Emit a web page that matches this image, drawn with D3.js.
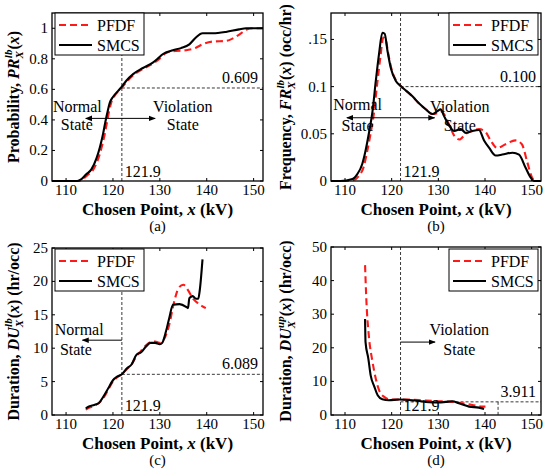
<!DOCTYPE html>
<html>
<head>
<meta charset="utf-8">
<script src="https://cdn.jsdelivr.net/npm/d3@7"></script>
<style>
  body { margin: 0; background: #fff; }
</style>
</head>
<body>
<svg id="fig" width="545" height="472" font-family="Liberation Serif"></svg>
<script>
// x axis shared by all four panels
const xTicks = [110, 120, 130, 140, 150];
const threshold = 121.9;

// (a) probability PR_X^lb(x)
const prTicks = [0, 0.2, 0.4, 0.6, 0.8, 1];
const prTickLabels = ["0", "0.2", "0.4", "0.6", "0.8", "1"];
const prPFDF = [[107,0],[112.6,0],[113.5,0.01],[114.6,0.04],[115.7,0.07],[116.8,0.14],[117.5,0.21],[118.2,0.3],[118.7,0.38],[119.2,0.46],[119.6,0.51],[120.2,0.55],[121.2,0.59],[122,0.615],[123,0.652],[124.5,0.697],[126.6,0.737],[128.7,0.772],[130.3,0.81],[131.3,0.838],[133.4,0.852],[135.6,0.856],[137.7,0.873],[139.1,0.895],[141.3,0.913],[144.1,0.917],[145.6,0.934],[147,0.96],[148.4,0.99],[149.8,1.0],[152,1.0]];
const prSMCS = [[107,0],[112.4,0],[113.2,0.01],[114.3,0.044],[115.4,0.076],[116.5,0.15],[117.2,0.22],[117.9,0.31],[118.4,0.39],[118.9,0.46],[119.3,0.51],[120,0.55],[121.1,0.59],[121.9,0.618],[122.8,0.655],[124.3,0.70],[126.4,0.74],[128.5,0.775],[129.5,0.8],[130.6,0.83],[132.8,0.856],[134.5,0.87],[136.3,0.895],[137.7,0.94],[139.1,0.967],[141.3,0.967],[144.1,0.976],[146.9,0.993],[148.4,1.0],[152,1.0]];

// (b) frequency FR_X^lb(x)
const frTicks = [0, 0.05, 0.1, 0.15];
const frTickLabels = ["0", "0.05", "0.1", ".15"];
const frPFDF = [[107,0],[109.5,0],[111.8,0.001],[112.9,0.005],[114,0.015],[114.7,0.03],[115.4,0.048],[116.2,0.072],[116.9,0.103],[117.6,0.132],[118.2,0.152],[118.7,0.15],[119.3,0.134],[120,0.118],[121,0.106],[122,0.1],[123,0.096],[124.4,0.09],[125.9,0.082],[127.3,0.076],[128.7,0.071],[129.8,0.072],[130.5,0.074],[131.2,0.071],[132.3,0.06],[133.4,0.048],[134.5,0.044],[135.9,0.05],[137.3,0.053],[138.7,0.055],[140.1,0.052],[141.2,0.043],[142.6,0.035],[144.4,0.039],[146.5,0.043],[147.9,0.039],[149,0.021],[150.1,0.0035],[150.8,0],[152,0]];
const frSMCS = [[107,0],[109,0],[111.6,0.002],[112.6,0.007],[113.7,0.018],[114.4,0.032],[115.1,0.05],[115.9,0.074],[116.6,0.106],[117.3,0.135],[118,0.157],[118.5,0.156],[119.1,0.138],[119.8,0.12],[120.9,0.106],[121.9,0.101],[123,0.096],[124.4,0.09],[125.9,0.082],[127.3,0.076],[128.7,0.071],[129.8,0.074],[130.5,0.076],[131.2,0.069],[132.3,0.059],[133.4,0.053],[134.8,0.055],[135.9,0.051],[137.3,0.053],[138.7,0.054],[139.8,0.043],[140.9,0.035],[142.3,0.027],[143.7,0.028],[145.9,0.03],[147.3,0.028],[148.7,0.014],[149.8,0.0035],[150.5,0],[152,0]];

// (c) duration DU_X^lb(x)
const dlTicks = [0, 5, 10, 15, 20, 25];
const dlTickLabels = ["0", "5", "10", "15", "20", "25"];
const dlPFDF = [[114.2,0.8],[115,1.1],[116,1.4],[117,1.8],[118,2.6],[119,3.8],[120,5.0],[121,5.7],[121.9,6.1],[123,6.9],[124,7.6],[125,8.8],[126,9.6],[127,10.4],[128,10.9],[129,11.0],[130,10.8],[131,11.5],[132,13.5],[133,16.8],[134,19.0],[135,19.5],[136,18.7],[137,17.5],[138,16.8],[139,16.3],[139.8,16.0]];
const dlSMCS = [[114.2,1.0],[115,1.3],[116,1.5],[117,1.8],[118,2.8],[119,4.0],[120,5.2],[121,5.8],[121.9,6.1],[123,7.0],[124,7.6],[125,9.0],[126,9.4],[127,10.2],[128,10.8],[129,10.8],[130,10.6],[130.5,10.8],[131.3,12.5],[132,14.5],[132.8,16.5],[134.2,16.6],[135.6,16.2],[136,16.0],[136.3,17.5],[137,17.8],[137.7,17.4],[138.2,17.4],[138.5,18.6],[139.1,23.3]];

// (d) duration DU_X^up(x)
const duTicks = [0, 10, 20, 30, 40, 50];
const duTickLabels = ["0", "10", "20", "30", "40", "50"];
const duPFDF = [[114.3,44.6],[114.6,33.5],[115.1,23.7],[115.9,15.8],[116.6,10.8],[117.3,7.4],[118.4,5.4],[119.8,4.6],[123,4.6],[127.3,4.3],[130.1,4.1],[133,3.9],[135.1,3.5],[137.3,3.0],[139.4,2.5],[140.1,2.5]];
const duSMCS = [[114.3,28.6],[114.4,21.7],[115,16.8],[115.5,11.8],[116.3,8.4],[117,5.9],[118,4.7],[119.4,4.4],[121.6,4.6],[124.4,4.4],[127.3,3.9],[130.1,3.7],[131.6,3.9],[133,4.1],[134.4,3.5],[136.6,2.5],[138.7,2.2],[139.8,1.8]];

const seriesNames = ["PFDF", "SMCS"];

const svg = d3.select("#fig");

// arrow head marker
svg.append("defs").append("marker")
    .attr("id", "arr")
    .attr("viewBox", "0 0 10 10")
    .attr("refX", 9).attr("refY", 5)
    .attr("markerWidth", 7).attr("markerHeight", 7)
    .attr("markerUnits", "userSpaceOnUse")
    .attr("orient", "auto-start-reverse")
  .append("path").attr("d", "M0,1 L10,5 L0,9 Z").attr("fill", "#000");

function drawPanel(p){
    let x = d3.scaleLinear().domain([107, 152]).range([p.left, p.right]);
    let y = d3.scaleLinear().domain(p.yDomain).range([p.bottom, p.top]);
    let g = svg.append("g");

    // clip a little past the box so lines lying on the axis stay visible
    g.append("clipPath").attr("id", "clip" + p.id)
      .append("rect").attr("x", p.left).attr("y", p.top - 2)
      .attr("width", p.right - p.left).attr("height", p.bottom - p.top + 4);

    // reference lines
    let ref = g.append("g").attr("stroke", "#222").attr("stroke-width", 0.9)
        .attr("stroke-dasharray", "3,2").attr("fill", "none");
    ref.append("line").attr("x1", x(threshold)).attr("x2", x(threshold))
        .attr("y1", y(p.yDomain[0])).attr("y2", y(p.yDomain[1]));
    ref.append("line").attr("x1", x(threshold)).attr("x2", x(152))
        .attr("y1", y(p.refVal)).attr("y2", y(p.refVal));
    if (p.extraX) {
        ref.append("line").attr("x1", x(p.extraX)).attr("x2", x(p.extraX))
            .attr("y1", y(p.refVal)).attr("y2", y(0));
    }

    // curves
    let line = d3.line().x(d => x(d[0])).y(d => y(d[1])).curve(d3.curveMonotoneX);
    let curves = g.append("g").attr("clip-path", "url(#clip" + p.id + ")");
    curves.append("path").datum(p.pfdf).attr("d", line)
        .attr("fill", "none").attr("stroke", "#ff1a1a").attr("stroke-width", 2.1)
        .attr("stroke-dasharray", "7,4");
    curves.append("path").datum(p.smcs).attr("d", line)
        .attr("fill", "none").attr("stroke", "#000").attr("stroke-width", 2.1);

    // axes box with inward ticks on all sides
    let tl = 3;
    let ax = g.append("g").attr("stroke", "#000").attr("stroke-width", 1);
    xTicks.forEach(t => {
        ax.append("line").attr("x1", x(t)).attr("x2", x(t)).attr("y1", p.bottom).attr("y2", p.bottom - tl);
        ax.append("line").attr("x1", x(t)).attr("x2", x(t)).attr("y1", p.top).attr("y2", p.top + tl);
    });
    p.yTicks.forEach(t => {
        ax.append("line").attr("x1", p.left).attr("x2", p.left + tl).attr("y1", y(t)).attr("y2", y(t));
        ax.append("line").attr("x1", p.right).attr("x2", p.right - tl).attr("y1", y(t)).attr("y2", y(t));
    });
    g.append("rect").attr("x", p.left).attr("y", p.top)
        .attr("width", p.right - p.left).attr("height", p.bottom - p.top)
        .attr("fill", "none").attr("stroke", "#000").attr("stroke-width", 1.3);

    // tick labels
    g.selectAll(".xt").data(xTicks).enter().append("text")
        .attr("x", d => x(d)).attr("y", p.bottom + 14)
        .attr("text-anchor", "middle").attr("font-size", 15).text(d => d);
    g.selectAll(".yt").data(p.yTicks).enter().append("text")
        .attr("x", p.left - 4).attr("y", d => y(d) + 5)
        .attr("text-anchor", "end").attr("font-size", 15)
        .text((d, i) => p.yTickLabels[i]);

    // x label
    let xl = g.append("text").attr("x", (p.left + p.right) / 2).attr("y", p.bottom + 34)
        .attr("text-anchor", "middle").attr("font-size", 17).attr("font-weight", "bold");
    xl.append("tspan").text("Chosen Point, ");
    xl.append("tspan").attr("font-style", "italic").text("x");
    xl.append("tspan").text(" (kV)");

    // y label with stacked sub/superscript
    let cy = (p.top + p.bottom) / 2;
    let yl = g.append("text").attr("transform", "translate(" + p.yLabelX + "," + cy + ") rotate(-90)")
        .attr("text-anchor", "middle").attr("font-size", 16).attr("font-weight", "bold");
    yl.append("tspan").text(p.yName + ", ");
    yl.append("tspan").attr("font-style", "italic").text(p.sym);
    yl.append("tspan").attr("font-style", "italic").attr("font-size", 11).attr("dy", 4).text("X");
    yl.append("tspan").attr("font-style", "italic").attr("font-size", 11).attr("dx", -7).attr("dy", -11).text(p.sup);
    yl.append("tspan").attr("dy", 7).text("(");
    yl.append("tspan").attr("font-style", "italic").text("x");
    yl.append("tspan").text(")" + p.unit);

    // caption
    g.append("text").attr("x", (p.left + p.right) / 2).attr("y", p.bottom + 50)
        .attr("text-anchor", "middle").attr("font-size", 15).text("(" + p.id + ")");

    // annotations
    let an = g.append("g").attr("font-size", 16);
    an.append("text").attr("x", x(152) - 5).attr("y", y(p.refVal) - 5)
        .attr("text-anchor", "end").text(p.refLabel);
    an.append("text").attr("x", x(threshold) + 3).attr("y", p.bottom - 4).text("121.9");
    p.notes.forEach(n => {
        an.append("text").attr("x", x(n.x)).attr("y", y(n.y))
            .attr("text-anchor", "middle").text(n.t);
    });
    p.arrows.forEach(a => {
        let l = an.append("line").attr("x1", x(a.from)).attr("x2", x(a.to))
            .attr("y1", y(a.y)).attr("y2", y(a.y))
            .attr("stroke", "#000").attr("stroke-width", 1)
            .attr("marker-end", "url(#arr)");
        if (a.both) l.attr("marker-start", "url(#arr)");
    });

    // legend
    let lg = g.append("g").attr("transform", "translate(" + p.legX + "," + p.legY + ")");
    lg.append("rect").attr("width", 89).attr("height", 42)
        .attr("fill", "#fff").attr("stroke", "#000").attr("stroke-width", 1);
    seriesNames.forEach((s, i) => {
        let ly = 12 + i * 20;
        let l = lg.append("line").attr("x1", 4).attr("x2", 37).attr("y1", ly).attr("y2", ly)
            .attr("stroke-width", 2.1);
        if (i === 0) l.attr("stroke", "#ff1a1a").attr("stroke-dasharray", "7,4");
        else l.attr("stroke", "#000");
        lg.append("text").attr("x", 42).attr("y", ly + 5.5).attr("font-size", 16).text(s);
    });
}

const panels = [
    {id: "a", left: 52, right: 263, top: 13, bottom: 181, yDomain: [0, 1.1],
     yTicks: prTicks, yTickLabels: prTickLabels, pfdf: prPFDF, smcs: prSMCS,
     refVal: 0.609, refLabel: "0.609", yLabelX: 19, yName: "Probability", sym: "PR", sup: "lb", unit: "",
     legX: 55, legY: 13,
     notes: [{x: 112.4, y: 0.449, t: "Normal"}, {x: 112.3, y: 0.332, t: "State"},
             {x: 134.9, y: 0.449, t: "Violation"}, {x: 134.9, y: 0.332, t: "State"}],
     arrows: [{from: 114.2, to: 129.0, y: 0.41, both: true}]},
    {id: "b", left: 331, right: 541, top: 13, bottom: 181, yDomain: [0, 0.178],
     yTicks: frTicks, yTickLabels: frTickLabels, pfdf: frPFDF, smcs: frSMCS,
     refVal: 0.1, refLabel: "0.100", yLabelX: 291, yName: "Frequency", sym: "FR", sup: "lb", unit: " (occ/hr)",
     legX: 449, legY: 13,
     notes: [{x: 112.7, y: 0.075, t: "Normal"}, {x: 112.7, y: 0.053, t: "State"},
             {x: 134.6, y: 0.073, t: "Violation"}, {x: 134.6, y: 0.053, t: "State"}],
     arrows: [{from: 110.4, to: 129.2, y: 0.067, both: true}]},
    {id: "c", left: 52, right: 263, top: 248, bottom: 415, yDomain: [0, 25],
     yTicks: dlTicks, yTickLabels: dlTickLabels, pfdf: dlPFDF, smcs: dlSMCS,
     refVal: 6.089, refLabel: "6.089", yLabelX: 19, yName: "Duration", sym: "DU", sup: "lb", unit: " (hr/occ)",
     legX: 55, legY: 249,
     notes: [{x: 112.8, y: 12.0, t: "Normal"}, {x: 112.1, y: 9.0, t: "State"}],
     arrows: [{from: threshold, to: 113.5, y: 11.2}]},
    {id: "d", left: 331, right: 541, top: 247, bottom: 415, yDomain: [0, 50],
     yTicks: duTicks, yTickLabels: duTickLabels, pfdf: duPFDF, smcs: duSMCS,
     refVal: 3.911, refLabel: "3.911", extraX: 142.8, yLabelX: 291, yName: "Duration", sym: "DU", sup: "up", unit: " (hr/occ)",
     legX: 449, legY: 249,
     notes: [{x: 134.5, y: 23.7, t: "Violation"}, {x: 134.5, y: 17.8, t: "State"}],
     arrows: [{from: threshold, to: 129.3, y: 21.7}]}
];

panels.forEach(drawPanel);
</script>
</body>
</html>
